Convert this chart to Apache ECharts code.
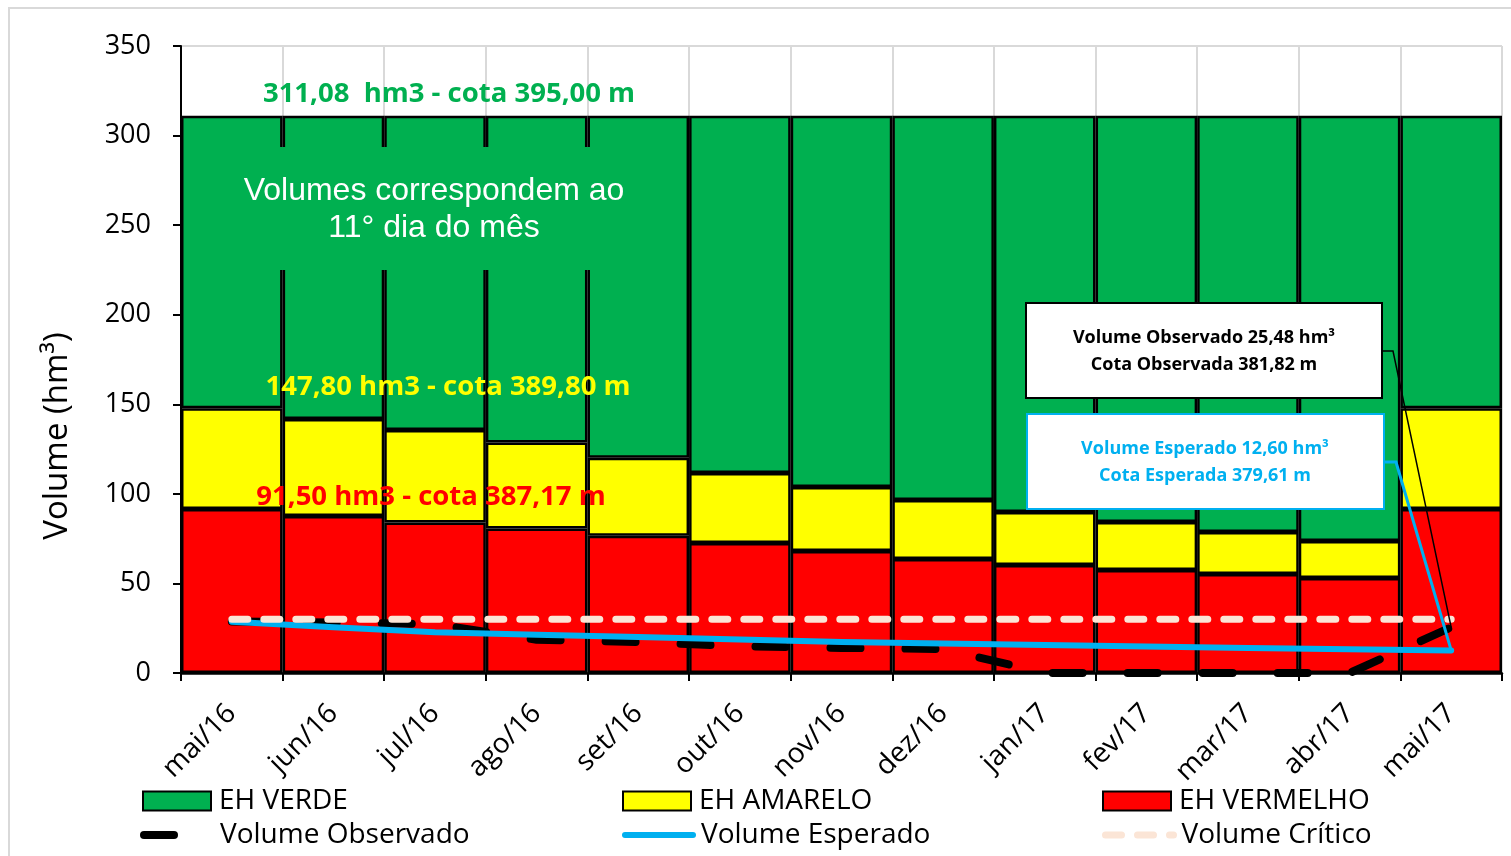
<!DOCTYPE html>
<html>
<head>
<meta charset="utf-8">
<script src="https://cdn.jsdelivr.net/npm/echarts@6/dist/echarts.min.js"></script>
<style>
html,body{margin:0;padding:0;background:#fff;}
#chart{width:1511px;height:856px;}
</style>
</head>
<body>
<div id="chart"></div>
<script>
// ---- data ----
const categories = ['mai/16','jun/16','jul/16','ago/16','set/16','out/16','nov/16','dez/16','jan/17','fev/17','mar/17','abr/17','mai/17'];
const limiteVermelho = [91.5, 87.6, 84.0, 80.7, 76.6, 72.6, 68.1, 63.6, 60.3, 57.5, 55.3, 53.0, 91.5];
const limiteAmarelo  = [147.8, 141.8, 135.7, 128.6, 120.2, 111.6, 103.8, 96.6, 89.9, 84.3, 78.7, 73.7, 147.8];
const limiteVerde    = [311.08, 311.08, 311.08, 311.08, 311.08, 311.08, 311.08, 311.08, 311.08, 311.08, 311.08, 311.08, 311.08];
const volumeObservado = [28.7, 28.2, 27.3, 18.6, 17.3, 14.9, 14.0, 13.4, 0, 0, 0, 0, 25.48];
const volumeEsperado  = [28.6, 25.6, 22.8, 21.4, 20.1, 18.7, 17.3, 16.4, 15.6, 14.8, 14.0, 13.2, 12.6];
const volumeCritico   = [30, 30, 30, 30, 30, 30, 30, 30, 30, 30, 30, 30, 30];
const yTicks = {min: 0, max: 350, interval: 50};

// derived stack pieces
const faixaVermelha = limiteVermelho.slice();
const faixaAmarela = limiteAmarelo.map((v, i) => +(v - limiteVermelho[i]).toFixed(2));
const faixaVerde = limiteVerde.map((v, i) => +(v - limiteAmarelo[i]).toFixed(2));

const FONT = '"Open Sans", "Noto Sans", sans-serif';
const chart = echarts.init(document.getElementById('chart'), null, {renderer: 'canvas'});

const legendBase = {
  orient: 'horizontal', padding: 0, itemGap: 0, itemWidth: 68, itemHeight: 19,
  selectedMode: false,
  textStyle: {fontFamily: FONT, fontSize: 28, color: '#000', padding: [0, 0, 0, 3]}
};
const lineLegend = {itemWidth: 68, itemStyle: {opacity: 0}};

const option = {
  animation: false,
  backgroundColor: '#fff',
  grid: {left: 181, right: 9, top: 46, bottom: 183, containLabel: false},
  legend: [
    Object.assign({}, legendBase, {data: ['EH VERDE'], left: 142, top: 787, icon: 'rect'}),
    Object.assign({}, legendBase, {data: ['EH AMARELO'], left: 622, top: 787, icon: 'rect'}),
    Object.assign({}, legendBase, {data: ['EH VERMELHO'], left: 1102, top: 787, icon: 'rect'}),
    Object.assign({}, legendBase, lineLegend, {data: ['Volume Observado'], left: 140, top: 821, lineStyle: {width: 8}}),
    Object.assign({}, legendBase, lineLegend, {data: ['Volume Esperado'], left: 622, top: 821, lineStyle: {width: 6}}),
    Object.assign({}, legendBase, lineLegend, {data: ['Volume Crítico'], left: 1102, top: 821, lineStyle: {width: 7}})
  ],
  xAxis: {
    type: 'category',
    data: categories,
    boundaryGap: true,
    axisLine: {show: true, lineStyle: {color: '#000', width: 2.5}},
    axisTick: {show: true, interval: 0, length: 8, lineStyle: {color: '#000', width: 2}},
    axisLabel: {interval: 0, rotate: 45, margin: 36, fontFamily: FONT, fontSize: 28, color: '#000'},
    splitLine: {show: true, interval: 0, lineStyle: {color: '#D9D9D9', width: 2}}
  },
  yAxis: {
    type: 'value',
    min: yTicks.min, max: yTicks.max, interval: yTicks.interval,
    axisLine: {show: true, lineStyle: {color: '#000', width: 2}},
    axisTick: {show: true, length: 8, lineStyle: {color: '#000', width: 2}},
    axisLabel: {margin: 30, fontFamily: FONT, fontSize: 27, color: '#000'},
    splitLine: {show: true, lineStyle: {color: '#D9D9D9', width: 2}}
  },
  series: [
    {name: 'EH VERMELHO', type: 'bar', stack: 'faixas', data: faixaVermelha, barCategoryGap: '0%', barGap: '0%',
     itemStyle: {color: '#FF0000', borderColor: '#000', borderWidth: 2.5}},
    {name: 'EH AMARELO', type: 'bar', stack: 'faixas', data: faixaAmarela,
     itemStyle: {color: '#FFFF00', borderColor: '#000', borderWidth: 2.5}},
    {name: 'EH VERDE', type: 'bar', stack: 'faixas', data: faixaVerde,
     itemStyle: {color: '#00B050', borderColor: '#000', borderWidth: 2.5}},
    {name: 'Volume Observado', type: 'line', data: volumeObservado, symbol: 'none', z: 5,
     lineStyle: {color: '#000', width: 8, type: [30, 45], cap: 'round', join: 'round'},
     itemStyle: {color: '#000'}},
    {name: 'Volume Esperado', type: 'line', data: volumeEsperado, symbol: 'none', z: 6,
     lineStyle: {color: '#00B0F0', width: 6, cap: 'round', join: 'round'},
     itemStyle: {color: '#00B0F0'}},
    {name: 'Volume Crítico', type: 'line', data: volumeCritico, symbol: 'none', z: 7,
     lineStyle: {color: '#FBE5D6', width: 7, type: [16, 16], cap: 'round'},
     itemStyle: {color: '#FBE5D6'}}
  ]
};
chart.setOption(option);

// annotations (positions of leader lines derived from the axes)
const last = categories.length - 1;
const pObs = chart.convertToPixel({xAxisIndex: 0, yAxisIndex: 0}, [last, volumeObservado[last]]);
const pEsp = chart.convertToPixel({xAxisIndex: 0, yAxisIndex: 0}, [last, volumeEsperado[last]]);

chart.setOption({
  graphic: [
    {type: 'rect', z: 0, silent: true, shape: {x: 9, y: 8, width: 1560, height: 900},
     style: {fill: null, stroke: '#D9D9D9', lineWidth: 2}},
    {type: 'text', z: 100, style: {text: 'Volume (hm³)', x: 0, y: 0, align: 'center', verticalAlign: 'middle',
      font: '33px ' + FONT, fill: '#000'}, x: 58, y: 436, rotation: Math.PI / 2},
    {type: 'rect', z: 100, shape: {x: 200, y: 147, width: 468, height: 123}, style: {fill: '#00B050'}},
    {type: 'text', z: 101, style: {text: 'Volumes correspondem ao', x: 434, y: 191, align: 'center', verticalAlign: 'middle',
      font: '32px "Liberation Sans", Arial, sans-serif', fill: '#fff'}},
    {type: 'text', z: 101, style: {text: '11° dia do mês', x: 434, y: 228, align: 'center', verticalAlign: 'middle',
      font: '32px "Liberation Sans", Arial, sans-serif', fill: '#fff'}},
    {type: 'text', z: 101, style: {text: '311,08  hm3 - cota 395,00 m', x: 449, y: 94, align: 'center', verticalAlign: 'middle',
      font: 'bold 27.5px ' + FONT, fill: '#00B050'}},
    {type: 'text', z: 101, style: {text: '147,80 hm3 - cota 389,80 m', x: 448, y: 387, align: 'center', verticalAlign: 'middle',
      font: 'bold 27.5px ' + FONT, fill: '#FFFF00'}},
    {type: 'text', z: 101, style: {text: '91,50 hm3 - cota 387,17 m', x: 431, y: 497, align: 'center', verticalAlign: 'middle',
      font: 'bold 27.5px ' + FONT, fill: '#FF0000'}},
    // leader lines
    {type: 'polyline', z: 100, shape: {points: [[1382, 351], [1393, 351], pObs]}, style: {stroke: '#000', lineWidth: 1.5, fill: null}},
    {type: 'polyline', z: 100, shape: {points: [[1384, 462], [1396, 462], pEsp]}, style: {stroke: '#00B0F0', lineWidth: 3, fill: null}},
    // callout boxes
    {type: 'rect', z: 102, shape: {x: 1026, y: 303, width: 356, height: 95}, style: {fill: '#fff', stroke: '#000', lineWidth: 2}},
    {type: 'text', z: 103, style: {text: 'Volume Observado 25,48 hm³', x: 1204, y: 338, align: 'center', verticalAlign: 'middle',
      font: 'bold 18px ' + FONT, fill: '#000'}},
    {type: 'text', z: 103, style: {text: 'Cota Observada 381,82 m', x: 1204, y: 365, align: 'center', verticalAlign: 'middle',
      font: 'bold 18px ' + FONT, fill: '#000'}},
    {type: 'rect', z: 102, shape: {x: 1027, y: 414, width: 357, height: 95}, style: {fill: '#fff', stroke: '#00B0F0', lineWidth: 2}},
    {type: 'text', z: 103, style: {text: 'Volume Esperado 12,60 hm³', x: 1205, y: 449, align: 'center', verticalAlign: 'middle',
      font: 'bold 18px ' + FONT, fill: '#00B0F0'}},
    {type: 'text', z: 103, style: {text: 'Cota Esperada 379,61 m', x: 1205, y: 476, align: 'center', verticalAlign: 'middle',
      font: 'bold 18px ' + FONT, fill: '#00B0F0'}}
  ]
});
</script>
</body>
</html>
